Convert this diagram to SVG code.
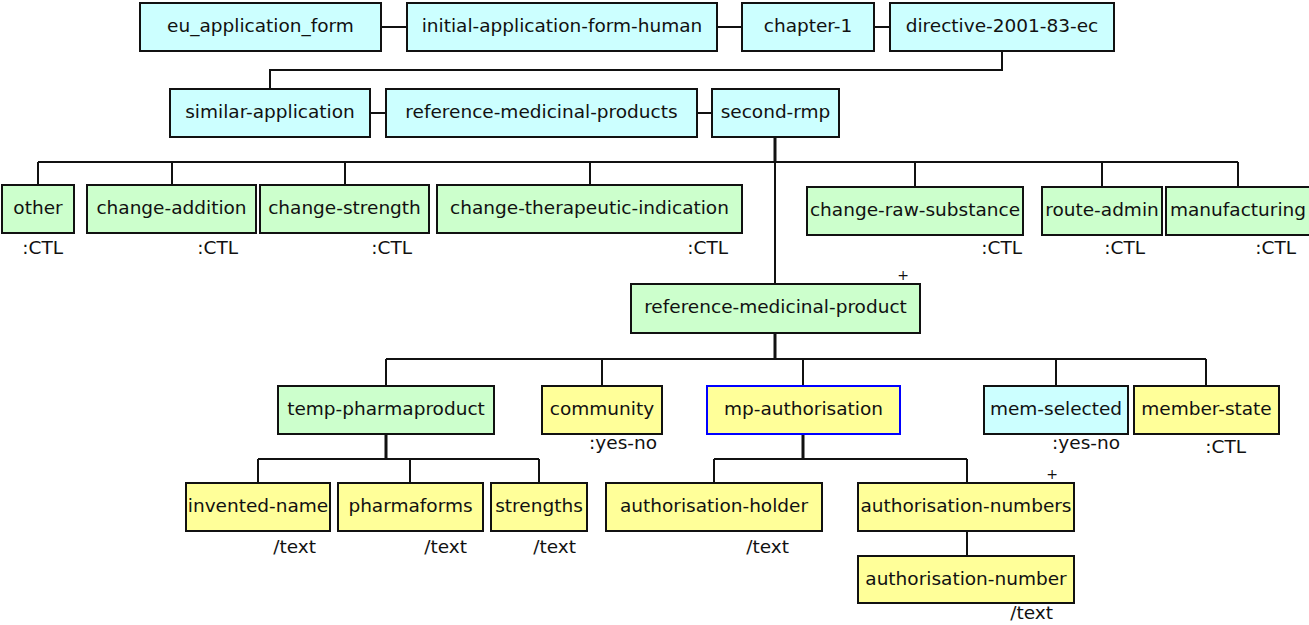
<svg xmlns="http://www.w3.org/2000/svg" width="1309" height="625" viewBox="0 0 1309 625">
  <style>
    .box { stroke: #111; stroke-width: 2; }
    .cy { fill: #ccffff; }
    .gr { fill: #ccffcc; }
    .ye { fill: #ffff99; }
    .sel { stroke: #0000ff; }
    text { font-family: "DejaVu Sans", Verdana, sans-serif; font-size: 18.5px; fill: #111; }
    .name { text-anchor: middle; }
    .type { text-anchor: end; }
    .mult { font-size: 14px; text-anchor: middle; }
    .link { fill: none; stroke: #111; stroke-width: 2; }
    .trunk { fill: none; stroke: #111; stroke-width: 3; }
  </style>

  <rect width="1309" height="625" fill="#ffffff"/>

  <!-- connectors -->
  <g id="connectors">
    <path class="link" d="M381,27 H407 M717,27 H742 M874,27 H890"/>
    <path class="link" d="M1002,51 V70 H270 V89"/>
    <path class="link" d="M370,113 H386 M697,113 H712"/>
    <path class="trunk" d="M775,137 V162"/>
    <path class="link" d="M38,162 H1238 M38,162 V185 M172,162 V185 M345,162 V185 M590,162 V185 M775,162 V284 M915,162 V187 M1102,162 V187 M1238,162 V187"/>
    <path class="trunk" d="M775,333 V359"/>
    <path class="link" d="M386,359 H1206 M386,359 V386 M602,359 V386 M803,359 V386 M1056,359 V386 M1206,359 V386"/>
    <path class="trunk" d="M386,434 V459 M803,434 V459"/>
    <path class="link" d="M258,459 H539 M258,459 V483 M410,459 V483 M539,459 V483"/>
    <path class="link" d="M714,459 H967 M714,459 V483 M967,459 V483"/>
    <path class="link" d="M967,531 V556"/>
  </g>

  <!-- path to the element -->
  <g id="eu_application_form"><rect class="box cy" x="140" y="3" width="241" height="48"/><text class="name" x="260.5" y="32">eu_application_form</text></g>
  <g id="initial-application-form-human"><rect class="box cy" x="407" y="3" width="310" height="48"/><text class="name" x="562" y="32">initial-application-form-human</text></g>
  <g id="chapter-1"><rect class="box cy" x="742" y="3" width="132" height="48"/><text class="name" x="808" y="32">chapter-1</text></g>
  <g id="directive-2001-83-ec"><rect class="box cy" x="890" y="3" width="224" height="48"/><text class="name" x="1002" y="32">directive-2001-83-ec</text></g>

  <g id="similar-application"><rect class="box cy" x="170" y="89" width="200" height="48"/><text class="name" x="270" y="118">similar-application</text></g>
  <g id="reference-medicinal-products"><rect class="box cy" x="386" y="89" width="311" height="48"/><text class="name" x="541.5" y="118">reference-medicinal-products</text></g>
  <g id="second-rmp"><rect class="box cy" x="712" y="89" width="127" height="48"/><text class="name" x="775.5" y="118">second-rmp</text></g>

  <!-- children of second-rmp -->
  <g id="other"><rect class="box gr" x="2" y="185" width="72" height="48"/><text class="name" x="38" y="214">other</text><text class="type" x="63" y="254">:CTL</text></g>
  <g id="change-addition"><rect class="box gr" x="87" y="185" width="169" height="48"/><text class="name" x="171.5" y="214">change-addition</text><text class="type" x="238" y="254">:CTL</text></g>
  <g id="change-strength"><rect class="box gr" x="260" y="185" width="169" height="48"/><text class="name" x="344.5" y="214">change-strength</text><text class="type" x="412" y="254">:CTL</text></g>
  <g id="change-therapeutic-indication"><rect class="box gr" x="437" y="185" width="305" height="48"/><text class="name" x="589.5" y="214">change-therapeutic-indication</text><text class="type" x="728" y="254">:CTL</text></g>
  <g id="change-raw-substance"><rect class="box gr" x="807" y="187" width="216" height="48"/><text class="name" x="915" y="216">change-raw-substance</text><text class="type" x="1022" y="254">:CTL</text></g>
  <g id="route-admin"><rect class="box gr" x="1042" y="187" width="120" height="48"/><text class="name" x="1102" y="216">route-admin</text><text class="type" x="1145" y="254">:CTL</text></g>
  <g id="manufacturing"><rect class="box gr" x="1166" y="187" width="145" height="48"/><text class="name" x="1238" y="216">manufacturing</text><text class="type" x="1296" y="254">:CTL</text></g>

  <g id="reference-medicinal-product"><rect class="box gr" x="631" y="284" width="289" height="49"/><text class="name" x="775.5" y="313">reference-medicinal-product</text><text class="mult" x="903" y="280">+</text></g>

  <!-- children of reference-medicinal-product -->
  <g id="temp-pharmaproduct"><rect class="box gr" x="278" y="386" width="216" height="48"/><text class="name" x="386" y="415">temp-pharmaproduct</text></g>
  <g id="community"><rect class="box ye" x="542" y="386" width="120" height="48"/><text class="name" x="602" y="415">community</text><text class="type" x="657" y="449">:yes-no</text></g>
  <g id="mp-authorisation"><rect class="box ye sel" x="707" y="386" width="193" height="48"/><text class="name" x="803.5" y="415">mp-authorisation</text></g>
  <g id="mem-selected"><rect class="box cy" x="984" y="386" width="144" height="48"/><text class="name" x="1056" y="415">mem-selected</text><text class="type" x="1120" y="449">:yes-no</text></g>
  <g id="member-state"><rect class="box ye" x="1134" y="386" width="145" height="48"/><text class="name" x="1206.5" y="415">member-state</text><text class="type" x="1246" y="453">:CTL</text></g>

  <!-- children of temp-pharmaproduct -->
  <g id="invented-name"><rect class="box ye" x="186" y="483" width="144" height="48"/><text class="name" x="258" y="512">invented-name</text><text class="type" x="316" y="553">/text</text></g>
  <g id="pharmaforms"><rect class="box ye" x="338" y="483" width="145" height="48"/><text class="name" x="410.5" y="512">pharmaforms</text><text class="type" x="467" y="553">/text</text></g>
  <g id="strengths"><rect class="box ye" x="491" y="483" width="96" height="48"/><text class="name" x="539" y="512">strengths</text><text class="type" x="576" y="553">/text</text></g>

  <!-- children of mp-authorisation -->
  <g id="authorisation-holder"><rect class="box ye" x="606" y="483" width="216" height="48"/><text class="name" x="714" y="512">authorisation-holder</text><text class="type" x="789" y="553">/text</text></g>
  <g id="authorisation-numbers"><rect class="box ye" x="858" y="483" width="216" height="48"/><text class="name" x="966" y="512">authorisation-numbers</text><text class="mult" x="1052" y="479">+</text></g>
  <g id="authorisation-number"><rect class="box ye" x="858" y="556" width="216" height="47"/><text class="name" x="966" y="585">authorisation-number</text><text class="type" x="1053" y="619">/text</text></g>
</svg>
